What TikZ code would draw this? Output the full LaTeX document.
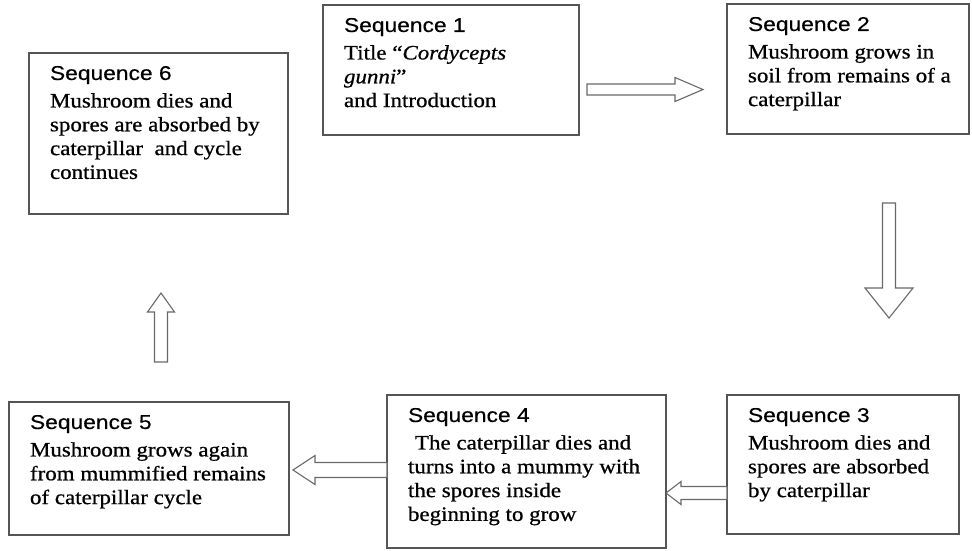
\documentclass[tikz,border=0pt]{standalone}
\usepackage{fontspec}
\setmainfont{Liberation Serif}[FakeStretch=1.12,FakeBold=0.7]
\newfontfamily\headfont{Liberation Sans}[FakeStretch=1.14,FakeBold=0.3]
\usepackage{tikz}
\usetikzlibrary{calc}
\usepackage{xcolor}
\definecolor{boxgray}{RGB}{85,85,85}
\definecolor{arrowgray}{RGB}{105,105,105}
\tikzstyle{seqbox}=[draw=boxgray, line width=1.6pt, anchor=north west, inner xsep=21pt, inner ysep=13pt, outer sep=0pt]
\tikzstyle{hollow}=[draw=arrowgray, line width=1.1pt, fill=white, line join=miter]
\newcommand{\seqtext}[4]{\parbox[t][#2][t]{#1}{\raggedright{\headfont\fontsize{20}{24}\selectfont #3\par}\vspace{3.7pt}\fontsize{20.5}{23.8}\selectfont #4}}
\newcommand{\hollowArrow}[5]{
	\coordinate (HB) at ($(#2)!#5!(#1)$);
	\draw[hollow] ($(#1)!#3!90:(#2)$) -- ($(HB)!#3!90:(#2)$) -- ($(HB)!#4!90:(#2)$) -- (#2) -- ($(HB)!#4!-90:(#2)$) -- ($(HB)!#3!-90:(#2)$) -- ($(#1)!#3!-90:(#2)$) -- cycle;
}

\begin{document}
\begin{tikzpicture}[x=1pt,y=-1pt]
	\fill[white] (0,0) rectangle (972,550);
	\node[seqbox] (s6) at (29,53) {\seqtext{217pt}{135pt}{Sequence 6}{Mushroom dies and\\ \mbox{spores are absorbed by}\\ caterpillar\ \ and cycle\\ continues}};
	\node[seqbox] (s1) at (323,5) {\seqtext{214pt}{104pt}{Sequence 1}{Title “\textit{Cordycepts}\\ \textit{gunni}”\\ and Introduction}};
	\node[seqbox] (s2) at (727,4) {\seqtext{200pt}{104pt}{Sequence 2}{Mushroom grows in\\ \mbox{soil from remains of a}\\ caterpillar}};
	\node[seqbox] (s3) at (727,395) {\seqtext{190pt}{113pt}{Sequence 3}{Mushroom dies and\\ \mbox{spores are absorbed}\\ by caterpillar}};
	\node[seqbox] (s4) at (387,395) {\seqtext{237pt}{127pt}{Sequence 4}{\mbox{\hspace*{7pt}The caterpillar dies and}\\ \mbox{turns into a mummy with}\\ the spores inside\\ beginning to grow}};
	\node[seqbox] (s5) at (9,402) {\seqtext{238pt}{107pt}{Sequence 5}{Mushroom grows again\\ \mbox{from mummified remains}\\ of caterpillar cycle}};
	\coordinate (a12t) at ($(s1.north east)+(8,84.5)$);
	\coordinate (a12h) at ($(s2.north west)+(-24,85.5)$);
	\coordinate (a23t) at ($(s2.south west)+(162,69)$);
	\coordinate (a23h) at ($(s3.north west)+(162,-77)$);
	\coordinate (a34t) at ($(s3.south west)+(0,-41)$);
	\coordinate (a34h) at ($(s4.south east)+(0,-55)$);
	\coordinate (a45t) at ($(s4.south west)+(0,-78)$);
	\coordinate (a45h) at ($(s5.south east)+(4,-65)$);
	\coordinate (a56t) at ($(s5.north west)+(152,-40)$);
	\coordinate (a56h) at ($(s6.south west)+(132,79)$);
	\hollowArrow{a12t}{a12h}{5.5pt}{12pt}{28pt}
	\hollowArrow{a23t}{a23h}{6.5pt}{24pt}{30pt}
	\hollowArrow{a34t}{a34h}{6.5pt}{11.5pt}{15pt}
	\hollowArrow{a45t}{a45h}{7.5pt}{14.5pt}{22pt}
	\hollowArrow{a56t}{a56h}{6.5pt}{13.5pt}{19pt}
\end{tikzpicture}
\end{document}
